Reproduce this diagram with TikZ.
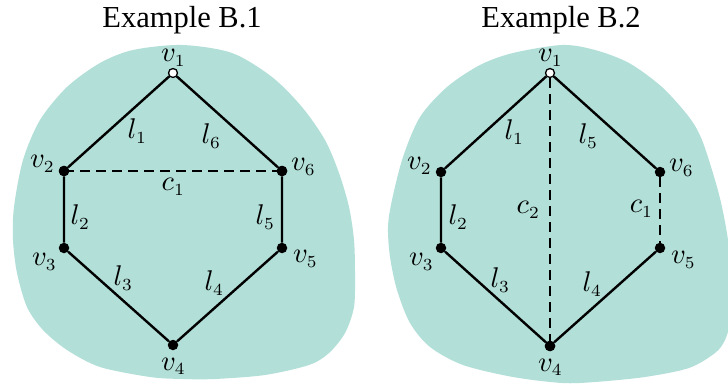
\RequirePackage{fix-cm}
\documentclass[tikz,border=0pt]{standalone}
\usepackage[no-math]{fontspec}
\newfontfamily\titlefont{Liberation Serif}
\DeclareFontShape{OML}{cmm}{m}{it}{<->cmmi10}{}
\DeclareFontShape{OT1}{cmr}{m}{n}{<->cmr7}{}
\DeclareMathSizes{28.5}{28.5}{17}{13}
\definecolor{blobteal}{RGB}{178,223,216}
\tikzset{
  dotv/.style={circle,fill=black,inner sep=0pt,minimum size=10.5pt},
  rootv/.style={circle,fill=white,draw=black,line width=1.3pt,inner sep=0pt,minimum size=9pt},
  edgel/.style={line width=2.4pt},
  chord/.style={line width=2.4pt,dash pattern=on 10pt off 6pt},
  lab/.style={inner sep=0pt,font=\fontsize{28.5}{32}\selectfont},
  ttl/.style={inner sep=0pt,font=\titlefont\fontsize{30.5}{34}\selectfont}
}
\begin{document}
\begin{tikzpicture}[x=1pt,y=-1pt]
\useasboundingbox (0,0) rectangle (728,385);
\clip (0,0) rectangle (728,385);
% blobs
\fill[blobteal] plot[smooth cycle,tension=0.5] coordinates {
 (182,45) (232,53) (272,77) (302,107) (325,140) (339,173) (349,207) (354,240) (355,273)
 (354,307) (345,333) (329,353) (309,365) (265,375) (215,379) (182,379) (150,377) (100,367)
 (67,350) (43,330) (27,307) (17,273) (13,240) (14,207) (23,160) (40,120) (67,87) (100,63) (133,50)};
\fill[blobteal] plot[smooth cycle,tension=0.5] coordinates {
 (562,45) (595,50) (629,63) (662,87) (689,117) (702,140) (715,180) (722,207) (728,240)
 (732,280) (731,318) (725,340) (715,353) (689,368) (645,377) (595,382) (562,383) (513,377)
 (463,365) (430,347) (410,323) (397,290) (390,257) (388,227) (392,200) (403,157) (420,117)
 (447,87) (480,65) (513,53)};
% titles
\node[ttl] (t1) at (182,20) {Example B.1};
\node[ttl] (t2) at (561,20) {Example B.2};
% panel 1
\node[rootv] (a1) at (173,73) {};
\node[dotv] (a2) at (64,171) {};
\node[dotv] (a3) at (64,248) {};
\node[dotv] (a4) at (173,345) {};
\node[dotv] (a5) at (282,248) {};
\node[dotv] (a6) at (282,171) {};
\draw[edgel] (a1) -- (a2) -- (a3) -- (a4) -- (a5) -- (a6) -- (a1);
\draw[chord] (a2.center) -- (a6.center);
\node[dotv] at (a2) {};
\node[dotv] at (a6) {};
\node[lab] (la1) at (173,58) {$v_1$};
\node[lab] (la2) at (42,164) {$v_2$};
\node[lab] (la3) at (44,262) {$v_3$};
\node[lab] (la4) at (173,366) {$v_4$};
\node[lab] (la5) at (305,259) {$v_5$};
\node[lab] (la6) at (303,167) {$v_6$};
\node[lab] (ea1) at (137,131) {$l_1$};
\node[lab] (ea2) at (80,217) {$l_2$};
\node[lab] (ea3) at (123,278) {$l_3$};
\node[lab] (ea4) at (214,283) {$l_4$};
\node[lab] (ea5) at (265,217) {$l_5$};
\node[lab] (ea6) at (211,136) {$l_6$};
\node[lab] (ca1) at (173,187) {$c_1$};
% panel 2
\node[rootv] (b1) at (550,73) {};
\node[dotv] (b2) at (441,172) {};
\node[dotv] (b3) at (441,248) {};
\node[dotv] (b4) at (550,346) {};
\node[dotv] (b5) at (660,248) {};
\node[dotv] (b6) at (660,172) {};
\draw[edgel] (b6) -- (b1) -- (b2) -- (b3) -- (b4) -- (b5);
\draw[chord] (b1) -- (b4.center);
\draw[chord] (b6) -- (b5);
\node[dotv] at (b4) {};
\node[lab] (lb1) at (550,58) {$v_1$};
\node[lab] (lb2) at (419,166) {$v_2$};
\node[lab] (lb3) at (421,262) {$v_3$};
\node[lab] (lb4) at (550,367) {$v_4$};
\node[lab] (lb5) at (683,260) {$v_5$};
\node[lab] (lb6) at (681,168) {$v_6$};
\node[lab] (eb1) at (514,132) {$l_1$};
\node[lab] (eb2) at (458,217) {$l_2$};
\node[lab] (eb3) at (500,280) {$l_3$};
\node[lab] (eb4) at (592,284) {$l_4$};
\node[lab] (eb5) at (588,136) {$l_5$};
\node[lab] (cb2) at (528,210) {$c_2$};
\node[lab] (cb1) at (641,209) {$c_1$};
\end{tikzpicture}
\end{document}
